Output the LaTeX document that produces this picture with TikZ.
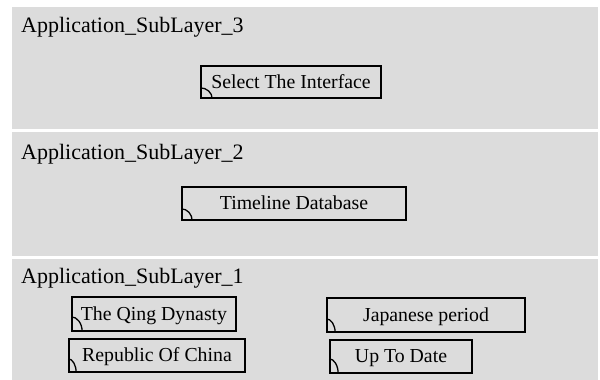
\documentclass[tikz,border=0pt]{standalone}
\usepackage{fontspec}
\setmainfont{Liberation Serif}
\definecolor{bandgrey}{RGB}{220,220,220}
\tikzset{
  band/.style={fill=bandgrey, draw=none},
  bandtitle/.style={anchor=base west, inner sep=0pt, font=\fontsize{22}{25}\selectfont},
  comp/.style={draw=black, line width=1.6pt, rectangle, inner sep=0pt,
    font=\fontsize{19.8}{22}\selectfont},
  tab/.style={draw=black, line width=1.3pt}
}
% a component box with a small quarter arc in its lower left corner
% #1 = node, #2 = horizontal radius, #3 = vertical radius
\newcommand{\compmark}[3]{%
  \draw[tab] ([yshift=#3pt]#1.south west) arc[start angle=90, end angle=0, x radius=#2pt, y radius=#3pt];}
\begin{document}
\begin{tikzpicture}[x=1pt, y=-1pt]
\useasboundingbox (0,0) rectangle (600,380);
\fill[white] (0,0) rectangle (600,380);

% the three sublayer bands
\fill[band] (12,7) rectangle (598,129);
\fill[band] (12,132) rectangle (598,256);
\fill[band] (12,259) rectangle (598,380);

\node[bandtitle] (t3) at (21,32) {Application\_SubLayer\_3};
\node[bandtitle] (t2) at (21,159) {Application\_SubLayer\_2};
\node[bandtitle] (t1) at (21,283) {Application\_SubLayer\_1};

% sublayer 3
\node[comp, minimum width=180pt, minimum height=32pt, text depth=1pt] (sel) at (291,82) {Select The Interface};
\compmark{sel}{12}{11}

% sublayer 2
\node[comp, minimum width=224pt, minimum height=33pt, text depth=1pt] (tdb) at (294,203.5) {Timeline Database};
\compmark{tdb}{11}{12}

% sublayer 1
\node[comp, minimum width=164pt, minimum height=34pt, text depth=1pt] (qing) at (154,314) {The Qing Dynasty};
\compmark{qing}{11}{15}
\node[comp, minimum width=198pt, minimum height=34pt, text depth=1pt] (jap) at (426,315) {Japanese period};
\compmark{jap}{9}{14}
\node[comp, minimum width=176pt, minimum height=33pt, text depth=1pt] (roc) at (157,355.5) {Republic Of China};
\compmark{roc}{8}{14}
\node[comp, minimum width=142pt, minimum height=33pt, text depth=1pt] (utd) at (401,356.5) {Up To Date};
\compmark{utd}{9}{15}
\end{tikzpicture}
\end{document}
